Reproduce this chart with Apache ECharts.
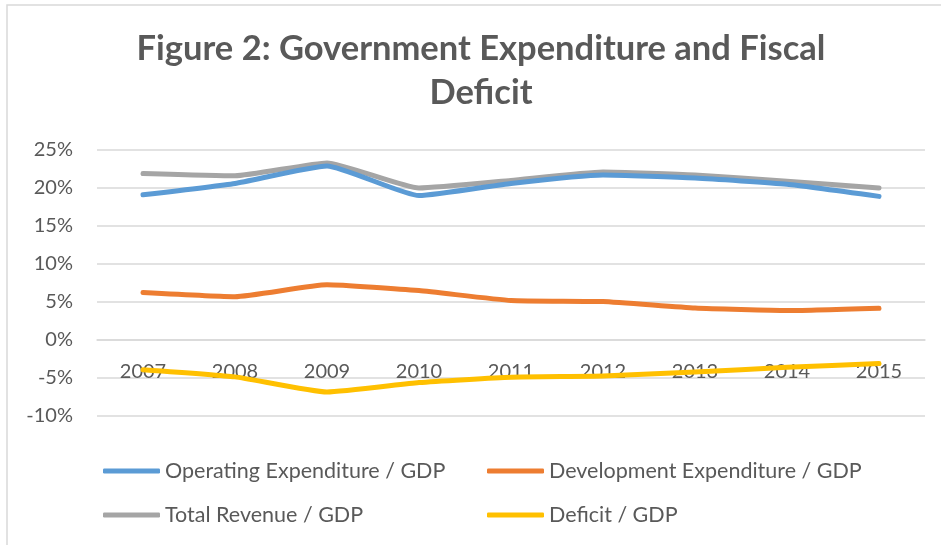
<!DOCTYPE html>
<html><head><meta charset="utf-8">
<script src="https://cdn.jsdelivr.net/npm/echarts@6/dist/echarts.min.js"></script>
<style>html,body{margin:0;padding:0;background:#fff}#c{width:941px;height:545px}</style>
</head><body><div id="c"></div>
<script>
const years = ['2007','2008','2009','2010','2011','2012','2013','2014','2015'];
const operatingExp = [19.1, 20.6, 22.9, 19.0, 20.6, 21.7, 21.3, 20.5, 18.9];
const developmentExp = [6.25, 5.7, 7.27, 6.5, 5.2, 5.05, 4.2, 3.87, 4.18];
const totalRevenue = [21.9, 21.6, 23.3, 20.0, 21.0, 22.1, 21.7, 20.9, 20.0];
const deficit = [-3.9, -4.85, -6.85, -5.6, -4.9, -4.75, -4.2, -3.6, -3.1];
const names = ['Operating Expenditure / GDP','Development Expenditure / GDP','Total Revenue / GDP','Deficit / GDP'];
const colors = ['#5B9BD5','#ED7D31','#A5A5A5','#FFC000'];
const yTicks = [-10,-5,0,5,10,15,20,25];

const font = 'Lato, "Open Sans", sans-serif';
const chart = echarts.init(document.getElementById('c'));
const seriesData = [operatingExp, developmentExp, totalRevenue, deficit];
const order = [2,0,1,3];
const legendPos = [[98,455],[482,455],[98,499],[482,499]];
chart.setOption({
  animation:false,
  backgroundColor:'#fff',
  graphic:[{type:'rect',shape:{x:7,y:5,width:960,height:560},style:{fill:'none',stroke:'#d9d9d9',lineWidth:1.5},silent:true}],
  title:{text:'Figure 2: Government Expenditure and Fiscal\nDeficit',left:476,textAlign:'center',top:22,
    textStyle:{fontFamily:font,fontWeight:'bold',fontSize:34.5,color:'#595959',lineHeight:44}},
  grid:{left:97,right:16,top:150,bottom:129,containLabel:false},
  xAxis:{type:'category',data:years,boundaryGap:true,offset:-76,
    axisLine:{onZero:false,lineStyle:{color:'#d9d9d9',width:1.5}},axisTick:{show:false},
    axisLabel:{fontFamily:font,fontSize:20,color:'#595959',margin:22}},
  yAxis:{type:'value',min:yTicks[0],max:yTicks[yTicks.length-1],interval:5,
    axisLine:{show:false},axisTick:{show:false},
    splitLine:{lineStyle:{color:'#d9d9d9',width:1.5}},
    axisLabel:{fontFamily:font,fontSize:20,color:'#595959',margin:24,formatter:v=>v+'%'}},
  legend: names.map((n,i)=>({data:[n],left:legendPos[i][0],top:legendPos[i][1],icon:'roundRect',
    itemWidth:57,itemHeight:5,itemGap:0,textStyle:{fontFamily:font,fontSize:21.5,color:'#595959'}})),
  series: order.map(i=>({name:names[i],type:'line',data:seriesData[i],symbol:'none',smooth:0.15,
    lineStyle:{width:5,color:colors[i],cap:'round',join:'round'},itemStyle:{color:colors[i]},z:2}))
});
</script></body></html>
